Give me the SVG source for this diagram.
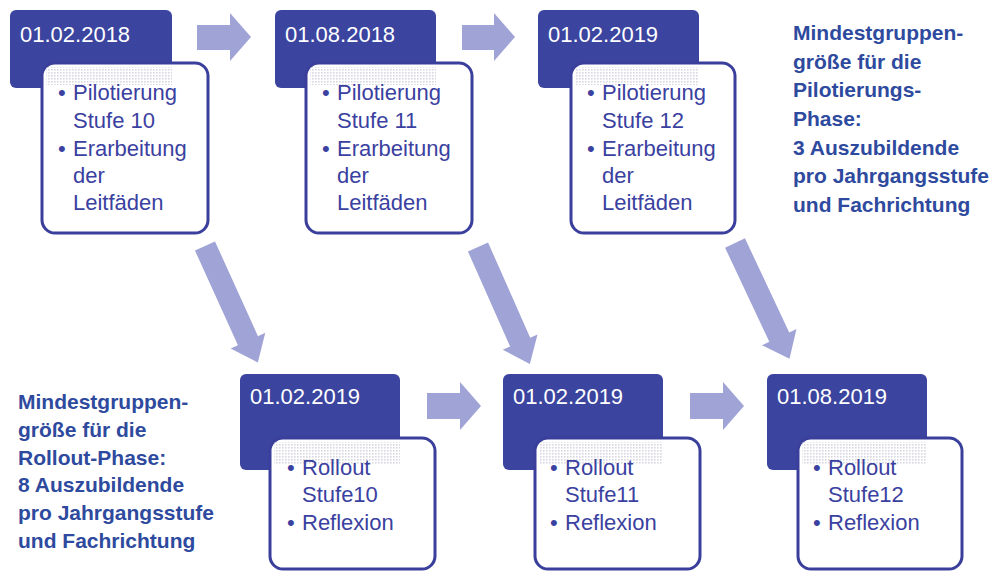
<svg xmlns="http://www.w3.org/2000/svg" width="998" height="572" viewBox="0 0 998 572">
<style>
.dark{fill:#3b449f;}
.card{fill:#ffffff;stroke:#3a3f9b;stroke-width:3;}
.tex{fill:url(#dots);opacity:0.75;}
.date{font-family:"Liberation Sans",Arial,sans-serif;font-size:22px;fill:#ffffff;}
.item{font-family:"Liberation Sans",Arial,sans-serif;font-size:22px;fill:#3a41a0;}
.side{font-family:"Liberation Sans",Arial,sans-serif;font-size:21px;font-weight:bold;fill:#2e4a9e;}
.arr{fill:#a0a3d6;}
</style>
<defs>
<pattern id="dots" width="3" height="3" patternUnits="userSpaceOnUse">
<rect width="1.6" height="1.6" fill="#c9c9d6"/>
</pattern>
<path id="diag" d="M0,-11 H104 V-19 L128,0 L104,19 V11 H0 Z"/>
</defs>
<rect width="998" height="572" fill="#ffffff"/>

<g id="connectors">
<path class="arr" d="M197,25 H230 V13 L251,37 L230,61 V50 H197 Z"/>
<path class="arr" d="M462,25 H494 V13 L515,37 L494,61 V50 H462 Z"/>
<path class="arr" d="M427,393 H460 V382 L481,406 L460,430 V419 H427 Z"/>
<path class="arr" d="M690,393 H723 V382 L744,406 L723,430 V419 H690 Z"/>
<use class="arr" href="#diag" transform="translate(205,246) rotate(65.6)"/>
<use class="arr" href="#diag" transform="translate(478,247) rotate(66.1)" />
<use class="arr" href="#diag" transform="translate(735,243) rotate(64.8)"/>
</g>

<g id="node-t1">
<rect class="dark" x="10" y="10" width="162" height="78" rx="6"/>
<text class="date" x="20" y="42">01.02.2018</text>
<rect class="card" x="42" y="63" width="166" height="170" rx="13"/>
<rect class="tex" x="46" y="67" width="126" height="18"/>
<text class="item"><tspan x="58" y="100">•</tspan><tspan x="73" y="100">Pilotierung</tspan><tspan x="73" y="128">Stufe 10</tspan><tspan x="58" y="156">•</tspan><tspan x="73" y="156">Erarbeitung</tspan><tspan x="73" y="183">der</tspan><tspan x="73" y="210">Leitfäden</tspan></text>
</g>

<g id="node-t2">
<rect class="dark" x="275" y="10" width="161" height="78" rx="6"/>
<text class="date" x="285" y="42">01.08.2018</text>
<rect class="card" x="306" y="63" width="166" height="170" rx="13"/>
<rect class="tex" x="310" y="67" width="126" height="18"/>
<text class="item"><tspan x="322" y="100">•</tspan><tspan x="337" y="100">Pilotierung</tspan><tspan x="337" y="128">Stufe 11</tspan><tspan x="322" y="156">•</tspan><tspan x="337" y="156">Erarbeitung</tspan><tspan x="337" y="183">der</tspan><tspan x="337" y="210">Leitfäden</tspan></text>
</g>

<g id="node-t3">
<rect class="dark" x="538" y="10" width="161" height="78" rx="6"/>
<text class="date" x="548" y="42">01.02.2019</text>
<rect class="card" x="571" y="63" width="164" height="170" rx="13"/>
<rect class="tex" x="575" y="67" width="124" height="18"/>
<text class="item"><tspan x="587" y="100">•</tspan><tspan x="602" y="100">Pilotierung</tspan><tspan x="602" y="128">Stufe 12</tspan><tspan x="587" y="156">•</tspan><tspan x="602" y="156">Erarbeitung</tspan><tspan x="602" y="183">der</tspan><tspan x="602" y="210">Leitfäden</tspan></text>
</g>

<g id="note-pilot">
<text class="side"><tspan x="793" y="40">Mindestgruppen-</tspan><tspan x="793" y="69">größe für die</tspan><tspan x="793" y="97">Pilotierungs-</tspan><tspan x="793" y="126">Phase:</tspan><tspan x="793" y="155">3 Auszubildende</tspan><tspan x="793" y="183">pro Jahrgangsstufe</tspan><tspan x="793" y="212">und Fachrichtung</tspan></text>
</g>

<g id="note-rollout">
<text class="side"><tspan x="18" y="409">Mindestgruppen-</tspan><tspan x="18" y="437">größe für die</tspan><tspan x="18" y="465">Rollout-Phase:</tspan><tspan x="18" y="492">8 Auszubildende</tspan><tspan x="18" y="520">pro Jahrgangsstufe</tspan><tspan x="18" y="548">und Fachrichtung</tspan></text>
</g>

<g id="node-b1">
<rect class="dark" x="240" y="374" width="160" height="96" rx="6"/>
<text class="date" x="250" y="404">01.02.2019</text>
<rect class="card" x="270" y="438" width="165" height="131" rx="13"/>
<rect class="tex" x="274" y="442" width="126" height="22"/>
<text class="item"><tspan x="287" y="475">•</tspan><tspan x="302" y="475">Rollout</tspan><tspan x="302" y="502">Stufe10</tspan><tspan x="287" y="530">•</tspan><tspan x="302" y="530">Reflexion</tspan></text>
</g>

<g id="node-b2">
<rect class="dark" x="503" y="374" width="160" height="96" rx="6"/>
<text class="date" x="513" y="404">01.02.2019</text>
<rect class="card" x="535" y="438" width="165" height="131" rx="13"/>
<rect class="tex" x="539" y="442" width="124" height="22"/>
<text class="item"><tspan x="550" y="475">•</tspan><tspan x="565" y="475">Rollout</tspan><tspan x="565" y="502">Stufe11</tspan><tspan x="550" y="530">•</tspan><tspan x="565" y="530">Reflexion</tspan></text>
</g>

<g id="node-b3">
<rect class="dark" x="767" y="374" width="160" height="96" rx="6"/>
<text class="date" x="777" y="404">01.08.2019</text>
<rect class="card" x="798" y="438" width="164" height="131" rx="13"/>
<rect class="tex" x="802" y="442" width="125" height="22"/>
<text class="item"><tspan x="813" y="475">•</tspan><tspan x="828" y="475">Rollout</tspan><tspan x="828" y="502">Stufe12</tspan><tspan x="813" y="530">•</tspan><tspan x="828" y="530">Reflexion</tspan></text>
</g>
</svg>
